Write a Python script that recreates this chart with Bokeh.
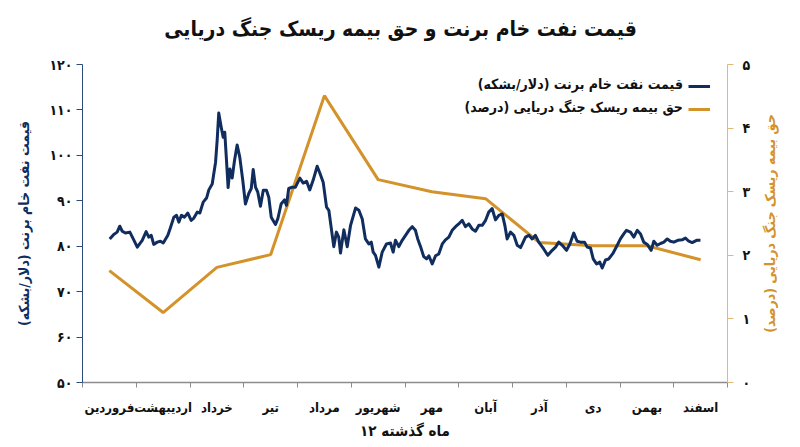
from math import pi
from bokeh.plotting import figure
from bokeh.layouts import column, row
from bokeh.models import (Range1d, LinearAxis, FixedTicker, Legend, LegendItem, Label)
from bokeh.embed import file_html
from bokeh.resources import INLINE

FONT = "DejaVu Sans Condensed"
NAVY = "#102d5e"
GOLD = "#d3922a"

months = ["فروردین", "اردیبهشت", "خرداد", "تیر", "مرداد", "شهریور",
          "مهر", "آبان", "آذر", "دی", "بهمن", "اسفند"]

# war risk premium (percent), one value per month
premium = [1.76, 1.10, 1.81, 2.01, 4.51, 3.19, 3.00, 2.89, 2.20, 2.15, 2.15, 1.93]

# brent price, day of year -> dollars per barrel
brent_day = [15.4, 17.7, 19.6, 21.1, 22.5, 24.3, 26.8, 29.0, 31.0, 33.8, 36.0, 37.5, 38.9,
             40.3, 42.3, 44.1, 45.7, 48.3, 49.8, 51.7, 53.2, 54.5, 56.0, 57.7, 59.6, 61.5,
             63.0, 64.9, 66.4, 68.3, 70.2, 71.5, 73.4, 75.3, 76.2, 77.1, 78.5, 79.6, 80.5,
             81.5, 82.4, 83.4, 84.7, 86.0, 87.5, 89.0, 90.7, 92.2, 94.1, 95.5, 96.6, 97.9,
             99.2, 100.7, 102.3, 104.1, 105.4, 106.8, 109.2, 110.5, 112.4, 114.3, 115.4,
             116.7, 118.7, 120.5, 123.0, 124.9, 126.8, 128.6, 130.5, 132.8, 134.3, 136.2,
             138.1, 139.4, 140.7, 142.2, 143.7, 145.0, 146.0, 147.9, 149.8, 151.7, 154.5,
             156.4, 158.3, 160.1, 162.0, 163.4, 164.5, 165.8, 167.7, 169.6, 172.0, 174.3,
             175.8, 177.1, 179.0, 180.9, 182.8, 184.7, 186.6, 188.4, 189.7, 191.3, 193.1,
             194.7, 196.0, 197.9, 199.8, 201.6, 203.6, 205.4, 207.3, 209.2, 211.1, 212.9,
             214.9, 216.7, 218.6, 220.5, 222.4, 224.3, 226.2, 228.1, 229.9, 231.8, 233.7,
             235.6, 237.5, 239.0, 240.3, 242.2, 244.1, 246.0, 247.9, 250.7, 252.6, 254.5,
             256.3, 258.2, 261.0, 263.3, 265.8, 267.7, 269.5, 271.5, 273.9, 275.8, 278.0,
             279.9, 281.8, 284.1, 285.6, 287.5, 289.0, 290.9, 292.7, 294.1, 296.0, 297.8,
             300.3, 302.6, 304.4, 306.3, 307.8, 310.1, 312.0, 313.9, 315.8, 317.6, 319.6,
             321.8, 323.3, 325.2, 327.1, 329.0, 330.9, 332.7, 334.6, 336.9, 339.4, 341.2,
             343.1, 345.0, 347.5, 349.7]
brent = [81.6, 82.6, 83.1, 84.4, 83.3, 82.9, 83.1, 81.4, 79.8, 81.3, 83.2, 82.0, 82.4,
         80.4, 80.9, 81.1, 80.7, 82.4, 84.1, 86.4, 86.8, 85.3, 86.8, 86.4, 87.3, 85.7,
         86.2, 87.5, 87.3, 89.7, 90.6, 92.4, 93.7, 98.5, 103.3, 109.3, 106.2, 104.0, 105.1,
         98.8, 92.9, 97.0, 95.0, 98.8, 102.3, 99.6, 94.5, 89.3, 91.6, 92.7, 96.9, 93.0,
         91.9, 88.8, 92.3, 92.3, 90.8, 86.4, 84.8, 86.0, 89.3, 90.2, 89.0,
         92.7, 93.0, 93.0, 95.0, 93.9, 94.3, 92.4, 94.5, 97.6, 96.1, 94.1,
         88.6, 87.9, 84.2, 79.9, 83.1, 82.0, 78.5, 83.6, 79.9, 84.6, 88.4,
         87.9, 86.0, 81.6, 80.5, 80.9, 78.7, 78.0, 75.4, 78.7, 80.5, 80.7,
         78.7, 81.3, 79.9, 81.3, 82.4, 83.5, 84.3, 83.5, 81.6, 79.9, 77.7,
         77.2, 77.9, 76.1, 77.9, 78.3, 80.5, 81.4, 82.0, 83.5, 84.3, 84.9,
         85.7, 84.3, 84.9, 83.8, 83.3, 84.6, 84.6, 85.7, 87.5, 88.3, 85.8,
         86.8, 87.1, 84.6, 81.6, 83.1, 82.4, 80.2, 79.7, 82.0, 82.4, 81.6,
         82.4, 80.9, 79.4, 78.0, 79.1, 79.8, 80.9, 80.2, 79.1, 80.5, 82.9,
         81.1, 80.9, 80.9, 79.8, 79.6, 77.2, 76.1, 76.5, 75.2, 77.0, 77.2,
         78.5, 80.2, 81.6, 82.7, 83.5, 83.1, 82.0, 83.5, 82.7, 80.9, 80.4,
         79.1, 81.1, 80.2, 80.6, 80.9, 81.6, 81.1, 80.9, 81.3, 81.4, 81.8,
         81.1, 80.8, 81.3, 81.3]

left_ticks = [50, 60, 70, 80, 90, 100, 110, 120]
right_ticks = [0, 1, 2, 3, 4, 5]

fa = str.maketrans("0123456789", "۰۱۲۳۴۵۶۷۸۹")
days_per_month = 365 / 12


def blank(w, h, **kw):
    f = figure(width=w, height=h, output_backend="svg", toolbar_location=None,
               x_axis_location=None, y_axis_location=None, **kw)
    f.outline_line_color = None
    f.grid.visible = False
    f.border_fill_color = "white"
    return f


# title strip
head = blank(800, 50, x_range=Range1d(0, 1), y_range=Range1d(0, 1), min_border=0)
head.add_layout(Label(x=0.5, y=0.44, text="قیمت نفت خام برنت و حق بیمه ریسک جنگ دریایی",
                      text_align="center", text_baseline="middle",
                      text_font=FONT, text_font_size="21px", text_font_style="bold",
                      text_color="#111111"))

p = figure(width=757, height=397, output_backend="svg", toolbar_location=None,
           x_range=Range1d(0, 12), y_range=Range1d(50, 120),
           min_border_left=82, min_border_right=30, min_border_top=14, min_border_bottom=65)
p.outline_line_color = None
p.grid.visible = False
p.background_fill_color = "white"
p.border_fill_color = "white"

p.extra_y_ranges = {"pct": Range1d(0, 5)}

brent_x = [d / days_per_month for d in brent_day]
prem_x = [i + 0.5 for i in range(len(months))]

r_prem = p.line(prem_x, premium, y_range_name="pct", line_color=GOLD, line_width=3)
r_brent = p.line(brent_x, brent, line_color=NAVY, line_width=3, line_join="round")

# x axis
xa = p.xaxis[0]
xa.ticker = FixedTicker(ticks=prem_x, minor_ticks=list(range(13)))
xa.major_label_overrides = {x: m for x, m in zip(prem_x, months)}
xa.major_tick_line_color = None
xa.minor_tick_in = 0
xa.minor_tick_out = 5
xa.minor_tick_line_color = "#8c8c8c"
xa.axis_line_color = "#8c8c8c"
xa.axis_line_width = 1.5
xa.major_label_text_font = FONT
xa.major_label_text_font_size = "13px"
xa.major_label_text_font_style = "bold"
xa.major_label_text_color = "#111111"
xa.major_label_standoff = 11
xa.axis_label = "۱۲ ماه گذشته"
xa.axis_label_text_font = FONT
xa.axis_label_text_font_size = "15px"
xa.axis_label_text_font_style = "bold"
xa.axis_label_text_color = "#111111"
xa.axis_label_standoff = 4

# left axis
ya = p.yaxis[0]
ya.ticker = FixedTicker(ticks=left_ticks)
ya.major_label_overrides = {t: str(t).translate(fa) for t in left_ticks}
ya.minor_tick_line_color = None
ya.major_tick_in = 0
ya.major_tick_out = 6
ya.major_tick_line_color = "#2c4a7c"
ya.axis_line_color = "#2c4a7c"
ya.major_label_text_font = FONT
ya.major_label_text_font_size = "14px"
ya.major_label_text_font_style = "bold"
ya.major_label_text_color = "#111111"
ya.major_label_standoff = 4
ya.axis_label = "قیمت نفت خام برنت (دلار/بشکه)"
ya.axis_label_text_font = FONT
ya.axis_label_text_font_size = "14px"
ya.axis_label_text_font_style = "bold"
ya.axis_label_text_color = NAVY
ya.axis_label_standoff = 14

# right axis
ra = LinearAxis(y_range_name="pct", ticker=FixedTicker(ticks=right_ticks))
ra.major_label_overrides = {t: str(t).translate(fa) for t in right_ticks}
ra.minor_tick_line_color = None
ra.major_tick_in = 0
ra.major_tick_out = 6
ra.major_tick_line_color = "#e0b878"
ra.axis_line_color = "#e0b878"
ra.major_label_text_font = FONT
ra.major_label_text_font_size = "14px"
ra.major_label_text_font_style = "bold"
ra.major_label_text_color = "#111111"
ra.major_label_standoff = 9
p.add_layout(ra, "right")

# legend: glyphs on the right, texts to their left (RTL)
legend = Legend(items=[LegendItem(label=" ", renderers=[r_brent]),
                       LegendItem(label=" ", renderers=[r_prem])],
                location=(606, 263), glyph_width=22, glyph_height=20,
                label_width=0, label_standoff=0, label_height=20, spacing=3,
                padding=0, margin=0, border_line_color=None,
                background_fill_alpha=0)
p.add_layout(legend)

labels = ["قیمت نفت خام برنت (دلار/بشکه)", "حق بیمه ریسک جنگ دریایی (درصد)"]
for txt, yv in zip(labels, [115.8, 110.75]):
    p.add_layout(Label(x=11.17, y=yv, text=txt, text_align="right", text_baseline="middle",
                       text_font=FONT, text_font_size="14px", text_font_style="bold",
                       text_color="#111111"))

# strip right of the chart carrying the right axis title, read bottom to top
side = blank(43, 397, x_range=Range1d(0, 1), y_range=p.y_range,
             min_border_left=0, min_border_right=0, min_border_top=14, min_border_bottom=65)
side.add_layout(Label(x=0.3, y=85, angle=pi / 2, text="حق بیمه ریسک جنگ دریایی (درصد)",
                      text_align="center", text_baseline="middle",
                      text_font=FONT, text_font_size="14px", text_font_style="bold",
                      text_color=GOLD))

page = column(head, row(p, side, spacing=0), spacing=0)
open("out.html", "w").write(file_html(page, INLINE))
